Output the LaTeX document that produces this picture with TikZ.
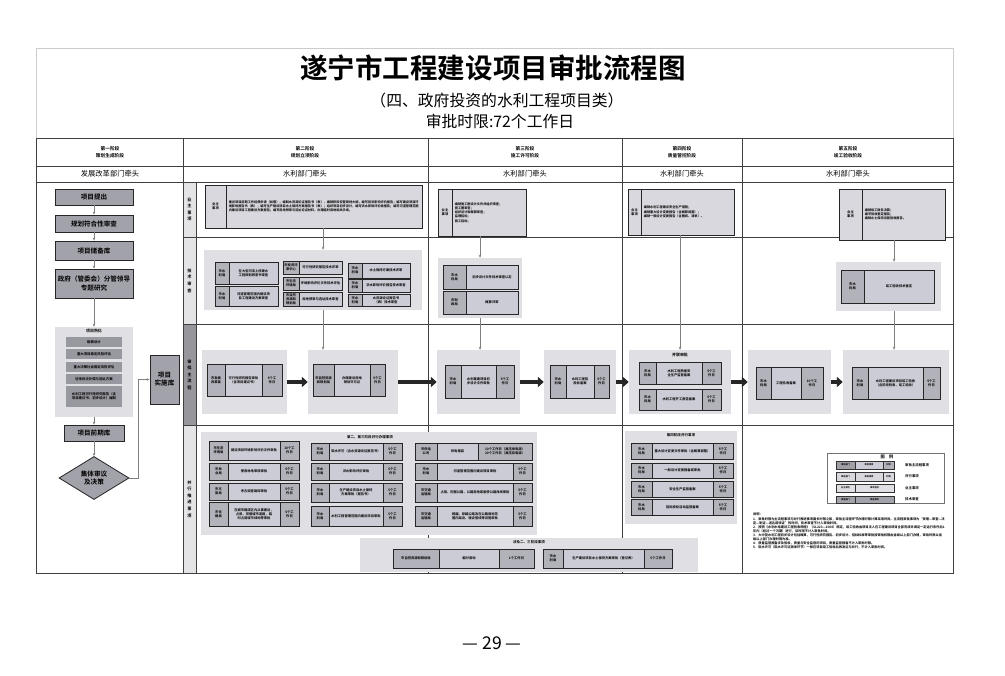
\documentclass[tikz,border=0pt]{standalone}
\usepackage{fontspec}
\setmainfont{Noto Sans CJK SC}[BoldFont={* Bold}]
\usetikzlibrary{shapes.geometric,arrows.meta}
\XeTeXlinebreaklocale "zh"
\XeTeXlinebreakskip=0pt
\definecolor{grpbg}{RGB}{224,224,228}
\definecolor{celld}{RGB}{178,178,186}
\definecolor{celli}{RGB}{204,204,214}
\definecolor{ownf}{RGB}{216,216,222}
\definecolor{leftf}{RGB}{162,162,170}
\definecolor{itemf}{RGB}{152,152,160}
\definecolor{rowlab}{RGB}{228,228,231}
\definecolor{rowmain}{RGB}{150,150,156}
\newcommand{\slj}{市水\\利局}
\newcommand{\wgr}{5个工\\作日}
\newcommand{\dcw}{18}
\newcommand{\tcw}{18}
\newcommand{\bcell}[7]{%
	\pgfmathsetmacro\celw{(#4-#2)*0.03}%
	\pgfmathsetmacro\celh{(#5-#3)*0.03}%
	\pgfmathsetmacro\celt{max((#4-#2)*0.03-0.05,0.05)}%
	\node[minimum width=\celw cm,minimum height=\celh cm,text width=\celt cm,#6] (#1) at ({(#2+#4)/2},{(#3+#5)/2}) {#7};}
\newcommand{\tribox}[8]{%
	\pgfmathsetmacro\cxa{#2+\dcw}%
	\pgfmathsetmacro\cxb{#4-\tcw}%
	\bcell{#1d}{#2}{#3}{\cxa}{#5}{dcell}{#6}%
	\bcell{#1i}{\cxa}{#3}{\cxb}{#5}{icell}{#7}%
	\bcell{#1t}{\cxb}{#3}{#4}{#5}{dcell}{#8}}
\newcommand{\duobox}[7]{%
	\pgfmathsetmacro\cxa{#2+\dcw}%
	\bcell{#1d}{#2}{#3}{\cxa}{#5}{dcell}{#6}%
	\bcell{#1i}{\cxa}{#3}{#4}{#5}{icell}{#7}}

\begin{document}
\begin{tikzpicture}
	[x=0.03cm,y=-0.03cm,
	every node/.style={inner sep=0pt,align=center,font=\fontsize{2.8}{3.5}\selectfont},
	gridline/.style={draw=black!75,line width=0.55pt},
	grp/.style={fill=grpbg},
	dcell/.style={draw=black!85,line width=0.4pt,fill=celld,font=\fontsize{2.8}{3.5}\selectfont\bfseries},
	icell/.style={draw=black!85,line width=0.4pt,fill=celli,font=\fontsize{2.8}{3.5}\selectfont\bfseries},
	obox/.style={draw=black!85,line width=0.45pt,fill=ownf,font=\fontsize{2.8}{3.5}\selectfont\bfseries},
	otext/.style={align=left,font=\fontsize{2.7}{3.6}\selectfont\bfseries},
	lbox/.style={draw=black!85,line width=0.7pt,fill=leftf,font=\fontsize{5.6}{7}\selectfont\bfseries},
	sitem/.style={fill=itemf,font=\fontsize{2.9}{3.6}\selectfont\bfseries},
	dia/.style={diamond,draw=black!85,line width=0.7pt,fill=leftf,aspect=1.6,minimum width=2.1cm,minimum height=1.29cm,font=\fontsize{5.6}{7}\selectfont\bfseries},
	hdr/.style={font=\fontsize{4}{6}\selectfont\bfseries},
	lead/.style={font=\fontsize{6.2}{7}\selectfont},
	rowlbl/.style={font=\fontsize{3.6}{5.6}\selectfont\bfseries},
	gtitle/.style={font=\fontsize{3}{3.6}\selectfont\bfseries},
	legc/.style={draw=black!80,line width=0.35pt,font=\fontsize{1.9}{2.3}\selectfont\bfseries},
	legl/.style={anchor=west,font=\fontsize{2.9}{3.5}\selectfont\bfseries},
	link/.style={draw=black!50,line width=0.4pt,-{Stealth[length=2.6pt,width=2.2pt]}},
	bigarrow/.style={draw=black!85,line width=3.6pt,-{Triangle[length=5pt,width=8.5pt]}}]
	\fill[white] (0,0) rectangle (1005,676);
	\useasboundingbox (0,0) rectangle (1005,676);
	\node[font=\fontsize{23.5}{28}\selectfont\bfseries] (bt) at (493,68) {遂宁市工程建设项目审批流程图};
	\node[font=\fontsize{13.5}{16}\selectfont] (fbt) at (497,100) {（四、政府投资的水利工程项目类）};
	\node[font=\fontsize{13.5}{16}\selectfont] (sx) at (500,121) {审批时限:72个工作日};
	\node[font=\fontsize{15}{18}\selectfont] (ym) at (492,643) {— 29 —};
	\fill[rowlab] (183,182) rectangle (196,324);
	\fill[rowmain] (183,324) rectangle (196,425);
	\fill[rowlab] (183,425) rectangle (196,573);
	\draw[gridline,draw=black!20] (36,138) -- (36,48) -- (953,48) -- (953,138);
	\draw[gridline] (36,138) rectangle (953,573);
	\draw[gridline] (36,166) -- (953,166);
	\draw[gridline] (36,182) -- (953,182);
	\draw[gridline] (183,237) -- (953,237);
	\draw[gridline] (183,324) -- (953,324);
	\draw[gridline] (183,425) -- (953,425);
	\draw[gridline] (183,138) -- (183,573);
	\draw[gridline] (196,182) -- (196,573);
	\draw[gridline] (428,138) -- (428,573);
	\draw[gridline] (622,138) -- (622,573);
	\draw[gridline] (742,138) -- (742,573);
	\node[hdr] (s1) at (110,152) {第一阶段\\策划生成阶段};
	\node[hdr] (s2) at (305,152) {第二阶段\\规划立项阶段};
	\node[hdr] (s3) at (525,152) {第三阶段\\施工许可阶段};
	\node[hdr] (s4) at (682,152) {第四阶段\\质量管控阶段};
	\node[hdr] (s5) at (848,152) {第五阶段\\竣工验收阶段};
	\node[lead] (q1) at (110,174) {发展改革部门牵头};
	\node[lead] (q2) at (305,174) {水利部门牵头};
	\node[lead] (q3) at (525,174) {水利部门牵头};
	\node[lead] (q4) at (682,174) {水利部门牵头};
	\node[lead] (q5) at (848,174) {水利部门牵头};
	\node[rowlbl] (hl1) at (189.5,209.5) {业\\主\\事\\项};
	\node[rowlbl] (hl2) at (189.5,280.5) {技\\术\\审\\查};
	\node[rowlbl] (hl3) at (189.5,374.5) {审\\批\\主\\流\\程};
	\node[rowlbl] (hl4) at (189.5,499) {并\\行\\推\\进\\事\\项};

	\bcell{xmtc}{55}{189}{133}{205}{lbox}{项目提出}
	\bcell{ghfh}{55}{215}{133}{232}{lbox}{规划符合性审查}
	\bcell{xmcb}{55}{241}{133}{260}{lbox}{项目储备库}
	\bcell{zfyj}{55}{269}{133}{298}{lbox}{政府（管委会）分管领导\\专题研究}
	\bcell{xmsh}{55}{327}{133}{417}{grp}{}
	\node[gtitle,font=\fontsize{3.4}{4}\selectfont\bfseries] (xmsht) at (94,331) {项目熟化};
	\bcell{sh1}{66}{337}{122}{347}{sitem}{勘察设计}
	\bcell{sh2}{66}{349}{122}{359}{sitem}{重大项目稳定风险评估}
	\bcell{sh3}{66}{362}{122}{372}{sitem}{重大决策社会稳定风险评估}
	\bcell{sh4}{66}{374}{122}{384}{sitem}{征地拆迁补偿与选址方案}
	\bcell{sh5}{66}{386}{122}{407}{sitem}{水利工程可行性研究报告（含项目建议书、初步设计）编制}
	\bcell{xmqq}{64}{425}{124}{441}{lbox}{项目前期库}
	\node[dia] (jtsy) at (94,478) {集体审议\\及决策};
	\bcell{xmss}{150}{355}{179}{404}{lbox}{项目\\实施库}
	\draw[link] (xmtc) -- (ghfh);
	\draw[link] (ghfh) -- (xmcb);
	\draw[link] (xmcb) -- (zfyj);
	\draw[link] (zfyj) -- (xmsh);
	\draw[link] (xmsh) -- (xmqq);
	\draw[link] (xmqq) -- (jtsy);
	\draw[link] (jtsy.east) -- ++(9,0) |- (xmss.west);

	\bcell{r1b}{205}{185}{422}{228}{obox}{}
	\bcell{r1bl}{205}{185}{226}{228}{obox}{业主\\事项}
	\bcell{r1bt}{228}{185}{420}{228}{otext}{建设项目前期工作经费申请（如需）；编制水资源论证报告书（表），编制移民安置规划大纲，编写防洪影响评价报告；编写建设项目环境影响报告书（表）；编写生产建设项目水土保持方案报告书（表）；组织项目初步设计，编写洪水影响评价类报告；编写河道管理范围内建设项目工程建设方案报告；编写用地预审与选址论证材料，办理临时用地相关手续。}
	\bcell{r1c}{438}{189}{526}{236}{obox}{}
	\bcell{r1cl}{438}{189}{452}{236}{obox}{业主\\事项}
	\bcell{r1ct}{454}{189}{525}{236}{otext}{编制施工图设计文件并组织审查；\\施工图审查；\\组织设计和概算审查；\\监理招标；\\施工招标；}
	\bcell{r1d}{628}{189}{734}{235}{obox}{}
	\bcell{r1dl}{628}{189}{641}{235}{obox}{业主\\事项}
	\bcell{r1dt}{643}{189}{733}{235}{otext}{编制水利工程建设安全生产措施；\\编制重大设计变更报告（含概算调整）；\\编制一般设计变更报告（含图纸、清单）。}
	\bcell{r1e}{839}{189}{945}{240}{obox}{}
	\bcell{r1el}{839}{189}{862}{240}{obox}{业主\\事项}
	\bcell{r1et}{864}{189}{944}{240}{otext}{编制竣工财务决算；\\编写验收鉴定报告；\\编制水土保持设施验收报告。}

	\bcell{r2b}{204}{250}{422}{310}{grp}{}
	\def\dcw{14}
	\duobox{jsa}{215}{262}{278}{284}{\slj}{在大型河流上修建水工程规划同意书审查}
	\duobox{jsb}{215}{286}{278}{306}{\slj}{河道管理范围内建设项目工程建设方案审查}
	\def\dcw{16}
	\duobox{jsc}{283}{261}{342}{274}{市投资评审中心}{可行性研究报告技术评审}
	\duobox{jsd}{283}{277}{342}{290}{市生态环境局}{环境影响评价文件技术评估}
	\duobox{jse}{283}{292}{342}{306}{市自然资源和规划局}{用地预审与选址技术审查}
	\def\dcw{14}
	\duobox{jsf}{348}{263}{410}{278}{\slj}{水土保持方案技术评审}
	\duobox{jsg}{348}{279}{410}{292}{\slj}{洪水影响评价报告技术审查}
	\duobox{jsh}{348}{294}{410}{306}{\slj}{水资源论证报告书（表）技术审查}
	\bcell{r2c}{438}{258}{522}{318}{grp}{}
	\def\dcw{23}
	\duobox{jca}{443}{265}{518}{289}{\slj}{初步设计文件技术审查认定}
	\duobox{jcb}{443}{291}{518}{314}{市财\\政局}{概算评审}
	\bcell{r2e}{836}{262}{941}{311}{grp}{}
	\duobox{jea}{841}{270}{934}{303}{\slj}{竣工验收技术鉴定}

	\bcell{r3a}{202}{350}{287}{414}{grp}{}
	\bcell{r3b}{308}{350}{398}{414}{grp}{}
	\bcell{r3c}{437}{350}{520}{414}{grp}{}
	\bcell{r3d}{544}{350}{616}{414}{grp}{}
	\bcell{r3e}{629}{350}{731}{414}{grp}{}
	\bcell{r3f}{748}{350}{831}{414}{grp}{}
	\bcell{r3g}{843}{350}{949}{414}{grp}{}
	\def\dcw{18}\def\tcw{20}
	\tribox{za}{207}{364}{282}{396}{市发展\\改革委}{可行性研究报告审批（含项目建议书）}{\wgr}
	\def\dcw{21}\def\tcw{15}
	\tribox{zb}{313}{364}{385}{396}{市自然资源和规划局}{办理建设用地规划许可证}{\wgr}
	\def\dcw{16}\def\tcw{18}
	\tribox{zc}{445}{365}{514}{398}{\slj}{水利基建项目初步设计文件审批}{\wgr}
	\def\dcw{16}\def\tcw{15}
	\tribox{zd}{550}{365}{609}{398}{\slj}{水利工程招投标备案}{\wgr}
	\node[gtitle,font=\fontsize{3.4}{4}\selectfont\bfseries] (blsp) at (680,355) {并联审批};
	\def\dcw{17}\def\tcw{19}
	\tribox{ze}{639}{362}{721}{384}{\slj}{水利工程质量安全生产监督备案}{\wgr}
	\tribox{zf}{639}{389}{721}{410}{\slj}{水利工程开工报告备案}{\wgr}
	\def\dcw{15}\def\tcw{22}
	\tribox{zg}{756}{367}{823}{399}{\slj}{工程验收备案}{10个工\\作日}
	\def\dcw{16}\def\tcw{17}
	\tribox{zh}{852}{367}{940}{399}{\slj}{水利工程建设项目竣工验收（含阶段验收、竣工验收）}{\wgr}
	\draw[bigarrow] (r3a) -- (r3b);
	\draw[bigarrow] (r3b) -- (r3c);
	\draw[bigarrow] (r3c) -- (r3d);
	\draw[bigarrow] (r3d) -- (r3e);
	\draw[bigarrow] (r3e) -- (r3f);
	\draw[bigarrow] (r3f) -- (r3g);

	\bcell{r4b}{201}{432}{537}{535}{grp}{}
	\node[gtitle] (r4bt) at (370,437) {第二、第三阶段并行办理事项};
	\def\dcw{19}\def\tcw{19}
	\tribox{ba}{209}{441}{299}{460}{市生态\\环境局}{建设项目环境影响评价文件审批}{10个工\\作日}
	\tribox{bb}{209}{463}{299}{480}{市林\\业局}{使用林地审核审批}{\wgr}
	\tribox{bc}{209}{483}{299}{500}{市文\\旅局}{考古调查勘探审批}{\wgr}
	\tribox{bd}{209}{502}{299}{526}{市住\\建局}{在城市建成区内从事建设，占用、挖掘城市道路，临时占用城市绿地等审批}{\wgr}
	\def\dcw{18}
	\tribox{be}{311}{443}{402}{460}{\slj}{取水许可（含水资源论证报告书）}{\wgr}
	\tribox{bf}{311}{463}{402}{480}{\slj}{洪水影响评价审批}{\wgr}
	\tribox{bg}{311}{483}{402}{502}{\slj}{生产建设项目水土保持方案审批（报告书）}{\wgr}
	\tribox{bh}{311}{506}{402}{526}{\slj}{水利工程管理范围内建设项目审批}{\wgr}
	\def\dcw{22}\def\tcw{54}
	\tribox{bi}{415}{443}{532}{460}{市供电\\公司}{供电报装}{10个工作日（高压单电源）\\20个工作日（高压双电源）}
	\def\tcw{19}
	\tribox{bj}{415}{463}{532}{480}{\slj}{河道管理范围内建设项目审批}{\wgr}
	\tribox{bk}{415}{483}{532}{502}{市交通\\运输局}{占用、挖掘公路、公路用地或者使公路改线审批}{\wgr}
	\tribox{bl}{415}{506}{532}{526}{市交通\\运输局}{跨越、穿越公路及在公路用地范围内架设、埋设管线等设施审批}{\wgr}
	\bcell{sj}{360}{538}{698}{572}{grp}{}
	\node[gtitle] (sjt) at (529,542) {涉及二、三阶段事项};
	\def\dcw{46}\def\tcw{35}
	\tribox{sa}{393}{549}{534}{568}{市自然资源和规划局}{临时用地}{1个工作日}
	\def\dcw{20}\def\tcw{28}
	\tribox{sb}{543}{549}{672}{568}{\slj}{生产建设项目水土保持方案审批（登记表）}{5个工作日}
	\bcell{sd}{625}{431}{737}{524}{grp}{}
	\node[gtitle] (sdt) at (681,435) {第四阶段并行事项};
	\def\dcw{21}\def\tcw{20}
	\tribox{sc}{631}{443}{733}{459}{\slj}{重大设计变更文件审批（含概算调整）}{\wgr}
	\tribox{se}{631}{463}{733}{478}{\slj}{一般设计变更报备或审批}{\wgr}
	\tribox{sf}{631}{481}{733}{497}{\slj}{安全生产监督备案}{\wgr}
	\tribox{sg}{631}{499}{733}{515}{\slj}{招标投标活动监督备案}{\wgr}

	\coordinate (v2) at (323,0);
	\coordinate (v3) at (480,0);
	\coordinate (v4) at (680,0);
	\coordinate (v5) at (894,0);
	\draw[link] (r1b.south -| v2) -- (r2b.north -| v2);
	\draw[link] (r2b.south -| v2) -- (r3b.north -| v2);
	\draw[link] (r1c.south -| v3) -- (r2c.north -| v3);
	\draw[link] (r2c.south -| v3) -- (r3c.north -| v3);
	\draw[link] (r1d.south -| v4) -- (r3e.north -| v4);
	\draw[link] (r1e.south -| v5) -- (r2e.north -| v5);
	\draw[link] (r2e.south -| v5) -- (r3g.north -| v5);

	\bcell{tl}{827}{453}{944}{503}{draw=black!55,line width=0.4pt,fill=white}{}
	\node[gtitle,font=\fontsize{3.6}{4}\selectfont\bfseries] (tlt) at (887,457) {图\quad 例};
	\bcell{tl1a}{836}{461}{855}{469}{legc,fill=celld!90!black}{审批部门}
	\bcell{tl1b}{855}{461}{883}{469}{legc,fill=celli}{审批事项}
	\bcell{tl1c}{883}{461}{894}{469}{legc,fill=celld}{时限}
	\node[legl] (tl1) at (905,465) {审批主流程事项};
	\bcell{tl2a}{836}{472}{855}{481}{legc,fill=ownf}{审批部门}
	\bcell{tl2b}{855}{472}{883}{481}{legc,fill=ownf}{审批事项}
	\bcell{tl2c}{883}{472}{894}{481}{legc,fill=ownf}{时限}
	\node[legl] (tl2) at (905,476.5) {并行事项};
	\bcell{tl3a}{836}{484}{855}{492}{legc,fill=grpbg}{业主单位}
	\bcell{tl3b}{855}{484}{894}{492}{legc,fill=grpbg}{事项名称}
	\node[legl] (tl3) at (905,488) {业主事项};
	\bcell{tl4a}{836}{496}{855}{503}{legc,fill=leftf}{审查部门}
	\bcell{tl4b}{855}{496}{894}{503}{legc,fill=leftf}{审查事项}
	\node[legl] (tl4) at (905,499.5) {技术审查};
	\node[anchor=north west,align=left,text width=5.75cm,font=\fontsize{2.75}{3.45}\selectfont\bfseries] (sm) at (753,513) {说明：\\1．审批时限为主流程事项与并行推进事项最长时限之和，审批主流程环节办理时限计算采用时间。主流程审批事项为“受理—审查—决定—制证—送达或领证”的时间，技术审查不计入审批时间。\\2．按照《水利水电建设工程验收规程》（SL223—2008）规定，竣工验收由项目法人在工程建设项目全部完成并满足一定运行条件后1年内（经过一个汛期）进行，该时限不计入审批时间。\\3．大中型水利工程初步设计包括概算，可行性研究报告、初步设计、招标标准等审批按审批权限由省级以上部门办理，审批时限以省级以上部门办理时限为准。\\4．质量监督报备涉及验收，质量与安全监督的项目，质量监督报备不计入审批时限。\\5．取水许可（取水许可证颁发环节）一般在项目竣工验收后再发证与并行，不计入审批时间。};
\end{tikzpicture}
\end{document}
